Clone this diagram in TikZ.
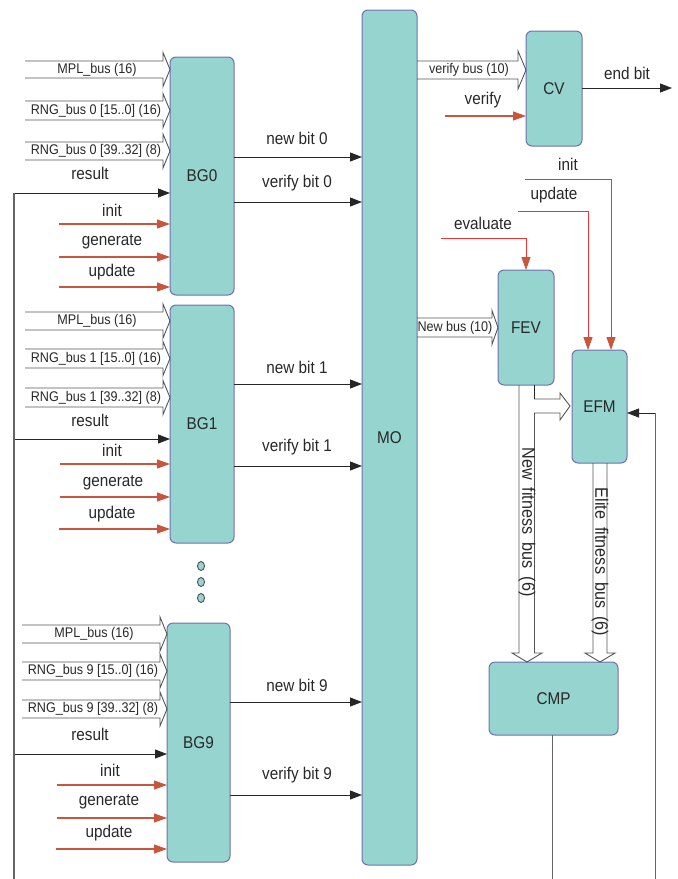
\documentclass[tikz,border=0pt]{standalone}
\usepackage{fontspec}
\setmainfont{Liberation Sans}[FakeStretch=0.9]
\usetikzlibrary{arrows.meta}
\definecolor{tealf}{RGB}{150,212,208}
\definecolor{bord}{RGB}{112,112,176}
\definecolor{brick}{RGB}{200,85,60}
\definecolor{bred}{RGB}{232,55,58}
\definecolor{txt}{RGB}{40,40,40}
\definecolor{busc}{RGB}{85,85,85}
\newcommand\hbus[6]{\draw[bus] (#1,#3-#4) -- (#2-#6,#3-#4) -- (#2-#6,#3-#5) -- (#2,#3) -- (#2-#6,#3+#5) -- (#2-#6,#3+#4) -- (#1,#3+#4);}
\begin{document}
\begin{tikzpicture}[x=1pt,y=-1pt,
  blk/.style={draw=bord, line width=1pt, fill=tealf, rounded corners=6pt, inner sep=0pt, outer sep=0pt, font=\fontsize{17}{17}\selectfont, text=txt},
  lbl/.style={font=\fontsize{17}{17}\selectfont, text=txt, inner sep=0pt},
  vlbl/.style={font=\fontsize{18}{18}\selectfont, text=txt, inner sep=0pt, rotate=-90},
  blbl/.style={font=\fontsize{14}{14}\selectfont, text=txt, inner sep=0pt},
  sig/.style={draw=black!85, line width=1pt, -{Triangle[length=12pt,width=9pt]}},
  rsig/.style={draw=brick, line width=1.1pt, -{Triangle[length=13pt,width=9pt,color=brick]}},
  rrsig/.style={draw=bred, line width=1pt, -{Triangle[length=13pt,width=9pt,color=brick]}},
  bus/.style={draw=busc, line width=0.9pt, line join=miter},
  gline/.style={draw=black!60, line width=1.3pt},
  dotn/.style={draw=black!75, line width=0.8pt, fill=tealf}
]
\useasboundingbox (0,0) rectangle (678,879);

% blocks
\node[blk, minimum width=64pt, minimum height=238pt] (BG0) at (202,176) {BG0};
\node[blk, minimum width=64pt, minimum height=238pt] (BG1) at (202,424) {BG1};
\node[blk, minimum width=63pt, minimum height=239pt] (BG9) at (198.5,742.5) {BG9};
\node[blk, minimum width=55pt, minimum height=855pt] (MO) at (389.5,437.5) {MO};
\node[blk, minimum width=56pt, minimum height=115pt] (CV) at (554,88.5) {CV};
\node[blk, minimum width=56pt, minimum height=115pt] (FEV) at (526,327.5) {FEV};
\node[blk, minimum width=55pt, minimum height=113pt] (EFM) at (599.5,406.5) {EFM};
\node[blk, minimum width=129pt, minimum height=73pt] (CMP) at (553.5,698.5) {CMP};

% dots
\draw[dotn] (201,566) ellipse [x radius=3.5pt, y radius=4.5pt];
\draw[dotn] (201,582) ellipse [x radius=3.5pt, y radius=4.5pt];
\draw[dotn] (201,598) ellipse [x radius=3.5pt, y radius=4.5pt];

% ---------- BG0 inputs
\hbus{25}{170}{69.5}{8.5}{17}{7}
\node[blbl] (m0) at (97,69.5) {MPL\_bus (16)};
\hbus{25}{170}{110.5}{9.5}{17}{7}
\node[blbl] (r0a) at (96,110.5) {RNG\_bus 0 [15..0] (16)};
\hbus{25}{170}{151}{9}{17}{7}
\node[blbl] (r0b) at (96,151) {RNG\_bus 0 [39..32] (8)};
\node[lbl] (res0) at (90,173) {result};
\node[lbl] (ini0) at (112,210) {init};
\node[lbl] (gen0) at (112,242) {generate};
\node[lbl] (upd0) at (112,272) {update};
\coordinate (l0) at (14,193);
\draw[sig] (l0) -- (BG0.west |- 0,193);
\draw[rsig] (59,224) -- (BG0.west |- 0,224);
\draw[rsig] (59,257) -- (BG0.west |- 0,257);
\draw[rsig] (59,287) -- (BG0.west |- 0,287);

% ---------- BG1 inputs
\hbus{25}{170}{321}{9}{17}{7}
\node[blbl] (m1) at (97,321) {MPL\_bus (16)};
\hbus{25}{170}{358.5}{9.5}{17}{7}
\node[blbl] (r1a) at (96,358.5) {RNG\_bus 1 [15..0] (16)};
\hbus{25}{170}{397.5}{9.5}{17}{7}
\node[blbl] (r1b) at (96,397.5) {RNG\_bus 1 [39..32] (8)};
\node[lbl] (res1) at (90,420) {result};
\node[lbl] (ini1) at (112,450) {init};
\node[lbl] (gen1) at (113,483) {generate};
\node[lbl] (upd1) at (112,514) {update};
\coordinate (l1) at (14,439);
\draw[sig] (l1) -- (BG1.west |- 0,439);
\draw[rsig] (60,464) -- (BG1.west |- 0,464);
\draw[rsig] (60,497) -- (BG1.west |- 0,497);
\draw[rsig] (59,529) -- (BG1.west |- 0,529);

% ---------- BG9 inputs
\hbus{22}{167}{634}{9}{17}{7}
\node[blbl] (m9) at (94,634) {MPL\_bus (16)};
\hbus{22}{167}{671}{9}{17}{7}
\node[blbl] (r9a) at (93,671) {RNG\_bus 9 [15..0] (16)};
\hbus{22}{167}{709}{9}{17}{7}
\node[blbl] (r9b) at (93,709) {RNG\_bus 9 [39..32] (8)};
\node[lbl] (res9) at (90,734) {result};
\node[lbl] (ini9) at (110,770) {init};
\node[lbl] (gen9) at (109,802) {generate};
\node[lbl] (upd9) at (109,833) {update};
\coordinate (l9) at (14,754);
\draw[sig] (l9) -- (BG9.west |- 0,754);
\draw[rsig] (57,785) -- (BG9.west |- 0,785);
\draw[rsig] (57,818) -- (BG9.west |- 0,818);
\draw[rsig] (56,849) -- (BG9.west |- 0,849);

% left feedback line
\coordinate (lb) at (14,879);
\draw[gline] (lb) -- (l0);

% ---------- BG -> MO
\draw[sig] (BG0.east |- 0,157) -- (MO.west |- 0,157);
\node[lbl] (nb0) at (297,138) {new bit 0};
\draw[sig] (BG0.east |- 0,202) -- (MO.west |- 0,202);
\node[lbl] (vb0) at (297,183) {verify bit 0};
\draw[sig] (BG1.east |- 0,384) -- (MO.west |- 0,384);
\node[lbl] (nb1) at (297,367) {new bit 1};
\draw[sig] (BG1.east |- 0,466) -- (MO.west |- 0,466);
\node[lbl] (vb1) at (297,447) {verify bit 1};
\draw[sig] (BG9.east |- 0,702) -- (MO.west |- 0,702);
\node[lbl] (nb9) at (297,685) {new bit 9};
\draw[sig] (BG9.east |- 0,795) -- (MO.west |- 0,795);
\node[lbl] (vb9) at (297,775) {verify bit 9};

% ---------- MO -> CV
\hbus{417}{526}{70}{9}{19}{8}
\node[blbl] (vbus) at (469,70) {verify bus (10)};
\draw[rsig] (445,116) -- (CV.west |- 0,116);
\node[lbl] (ver) at (483,100) {verify};
\coordinate (eb) at (672,88);
\draw[sig] (CV.east |- eb) -- (eb);
\node[lbl] (endb) at (627,73) {end bit};

% ---------- MO -> FEV
\hbus{417}{498}{327.5}{9.5}{17}{6}
\node[blbl] (nbus) at (455,327.5) {New bus (10)};

% control lines right
\draw[rrsig] (441,238) -| (FEV.north);
\node[lbl] (evl) at (483,223) {evaluate};
\draw[rrsig] (518,211) -| (588,350);
\node[lbl] (updr) at (554,195) {update};
\draw[rrsig] (525,179) -| (611,350);
\node[lbl] (inir) at (568,164) {init};

% FEV -> EFM hollow branch
\draw[bus] (534,399) -- (560,399) -- (560,393) -- (570,406) -- (560,420) -- (560,413) -- (534,413);

% New fitness bus
\draw[bus] (519,385) -- (519,653) -- (512,653) -- (527,662) -- (542,653) -- (534.5,653) -- (534.5,413);
\draw[draw=black!85, line width=0.9pt] (534.5,385) -- (534.5,399);
\node[vlbl] (nfb) at (527,522) {New\hspace{8pt}fitness\hspace{8pt}bus\hspace{8pt}(6)};

% Elite fitness bus
\draw[bus] (593,463) -- (593,653) -- (585,653) -- (600,662) -- (615,653) -- (607,653) -- (607,463);
\node[vlbl] (efb) at (600,562) {Elite\hspace{8pt}fitness\hspace{8pt}bus\hspace{8pt}(6)};

% CMP output and feedback to EFM
\coordinate (cb) at (552,879);
\draw[gline, line width=1pt] (CMP.south -| cb) -- (cb);
\coordinate (fb) at (655,879);
\draw[gline, line width=1pt] (fb) -- (655,413);
\draw[sig] (655,413) -- (EFM.east |- 0,413);

\end{tikzpicture}
\end{document}
